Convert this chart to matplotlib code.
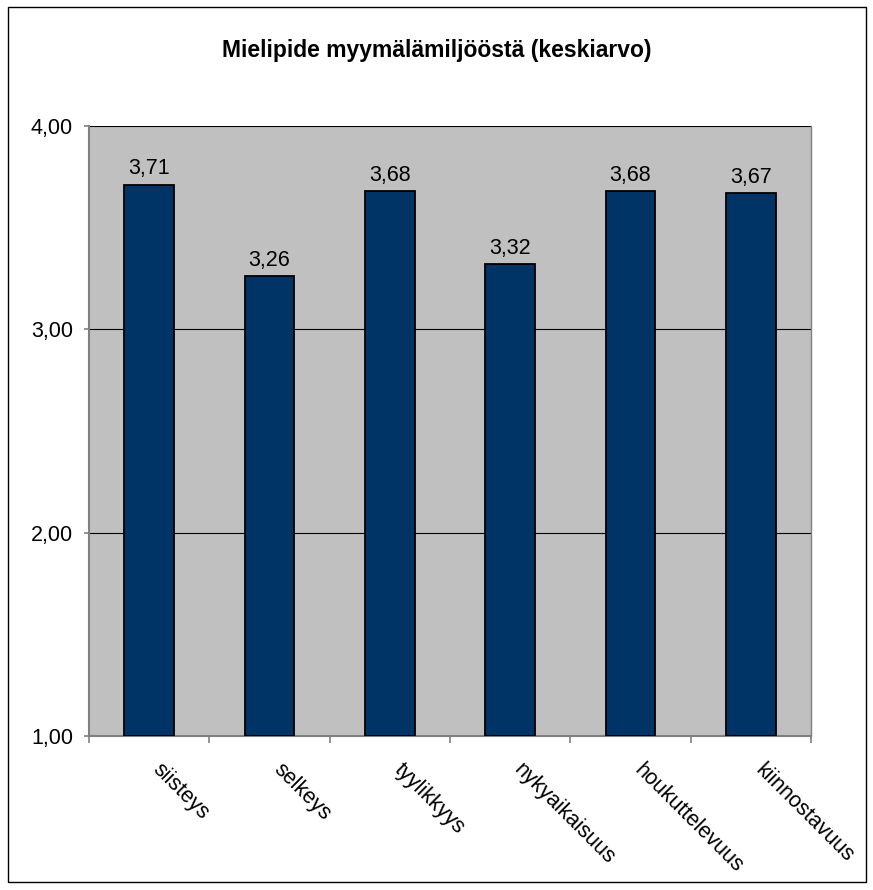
import matplotlib
matplotlib.use("Agg")
import matplotlib.pyplot as plt
from matplotlib.patches import Rectangle
from matplotlib.ticker import FixedLocator, NullFormatter

categories = ["siisteys", "selkeys", "tyylikkyys", "nykyaikaisuus", "houkuttelevuus", "kiinnostavuus"]
values = [3.71, 3.26, 3.68, 3.32, 3.68, 3.67]
value_labels = ["3,71", "3,26", "3,68", "3,32", "3,68", "3,67"]
yticks = [1, 2, 3, 4]
ytick_labels = ["1,00", "2,00", "3,00", "4,00"]
title = "Mielipide myymälämiljööstä (keskiarvo)"

plt.rcParams['font.family'] = ['Liberation Sans', 'DejaVu Sans']

W, H = 873, 890
fig = plt.figure(figsize=(W / 100, H / 100), dpi=100)
fig.patch.set_facecolor('white')

# outer border
fig.add_artist(Rectangle((8 / W, 1 - 882 / H), (866 - 8) / W, (882 - 7) / H,
                         transform=fig.transFigure, fill=False, edgecolor='black', lw=1.0))

left, right, top, bottom = 89, 811, 126, 736
ax = fig.add_axes([left / W, 1 - bottom / H, (right - left) / W, (bottom - top) / H])
ax.set_facecolor('#C0C0C0')
x = list(range(len(categories)))
ax.bar(x, [v - 1 for v in values], bottom=1, width=0.41, color='#003366', edgecolor='black', linewidth=1.3, zorder=3)
ax.set_xlim(-0.5, len(categories) - 0.5)
ax.set_ylim(1, 4)

ax.set_yticks(yticks)
ax.set_yticklabels(ytick_labels, fontsize=15.5)
ax.yaxis.grid(True, color='black', linewidth=0.8, zorder=1)
ax.set_axisbelow(True)

ax.xaxis.set_major_locator(FixedLocator([i - 0.5 for i in range(len(categories) + 1)]))
ax.xaxis.set_major_formatter(NullFormatter())
ax.tick_params(axis='x', direction='out', length=5, color='#808080', width=1.2)
ax.tick_params(axis='y', direction='out', length=3.6, color='#808080', width=1.2, pad=8)

for spine in ['left', 'bottom']:
    ax.spines[spine].set_color('#808080')
    ax.spines[spine].set_linewidth(1.5)
ax.spines['right'].set_color('#808080')
ax.spines['right'].set_linewidth(1.0)
ax.spines['top'].set_visible(False)

for i, (v, lab) in enumerate(zip(values, value_labels)):
    ax.annotate(lab, (i, v), xytext=(0, 4), textcoords='offset points', ha='center', va='bottom', fontsize=15.5)

for i, c in enumerate(categories):
    ax.annotate(c, (i, 1), xytext=(10.5, -17), textcoords='offset points', ha='left', va='top',
                rotation=-45, rotation_mode='anchor', fontsize=15.5, annotation_clip=False)

fig.text((8 + 866) / 2 / W, 1 - 51 / H, title, ha='center', va='center', fontsize=16.5, fontweight='bold')

fig.savefig('out.png', dpi=100)
